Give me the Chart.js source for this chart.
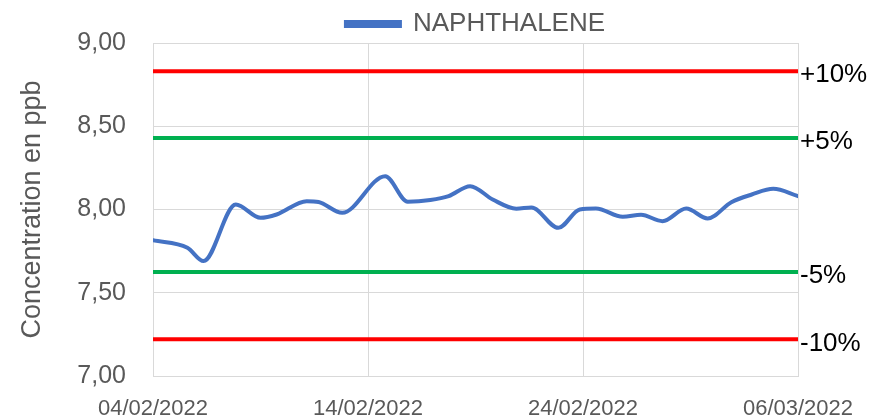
<!DOCTYPE html>
<html>
<head>
<meta charset="utf-8">
<title>NAPHTHALENE</title>
<script src="https://cdn.jsdelivr.net/npm/chart.js@4.4.1/dist/chart.umd.min.js"></script>
<style>
	html, body { margin: 0; padding: 0; background: #ffffff; }
	#wrap { width: 892px; height: 419px; }
</style>
</head>
<body>
<div id="wrap"><canvas id="naphChart" width="892" height="419"></canvas></div>
<script>
// days since 04/02/2022 and measured concentration (ppb)
const napDays = [0, 1.6, 2.35, 3.85, 5.0, 5.75, 7.15, 7.7, 8.8, 10.8, 11.85, 12.9, 13.75, 14.75, 15.8, 16.9, 17.6, 18.85, 19.85, 20.6, 21.85, 22.7, 23.7, 24.8, 25.8, 26.9, 27.85, 28.85, 30];
const napValues = [7.815, 7.77, 7.69, 8.03, 7.95, 7.97, 8.05, 8.045, 7.98, 8.2, 8.047, 8.057, 8.08, 8.14, 8.06, 8.005, 8.012, 7.89, 8.0, 8.006, 7.956, 7.968, 7.93, 8.006, 7.946, 8.044, 8.09, 8.124, 8.08];

// tolerance limits
const limitLabels = ["+10%", "+5%", "-5%", "-10%"];
const limitValues = [8.83, 8.43, 7.625, 7.22];
const limitColors = ["#FF0000", "#00B050", "#00B050", "#FF0000"];
const limitDays = [0, 30];

const xTickLabels = ["04/02/2022", "14/02/2022", "24/02/2022", "06/03/2022"];
const xTickDays = [0, 10, 20, 30];

const fontFamily = "'Liberation Sans', Arial, sans-serif";
const greyText = "#595959";
const gridColor = "#D9D9D9";

const datasets = [
	{
		label: "NAPHTHALENE",
		data: napDays.map((d, i) => ({ x: d, y: napValues[i] })),
		borderColor: "#4472C4",
		backgroundColor: "#4472C4",
		borderWidth: 4,
		borderCapStyle: "round",
		cubicInterpolationMode: "monotone",
		pointRadius: 0,
		fill: false,
	},
];

limitValues.forEach((v, i) => {
	datasets.push({
		label: limitLabels[i],
		data: limitDays.map(d => ({ x: d, y: v })),
		borderColor: limitColors[i],
		backgroundColor: limitColors[i],
		borderWidth: 4,
		pointRadius: 0,
		fill: false,
	});
});

// draws the +10% / +5% / -5% / -10% labels at the right end of each limit line
const limitLabelPlugin = {
	id: "limitLabels",
	afterDatasetsDraw(chart) {
		const { ctx, chartArea, scales } = chart;
		ctx.save();
		ctx.font = "26px " + fontFamily;
		ctx.fillStyle = "#000000";
		ctx.textAlign = "left";
		ctx.textBaseline = "middle";
		limitValues.forEach((v, i) => {
			const y = scales.y.getPixelForValue(v);
			ctx.fillText(limitLabels[i], chartArea.right + 2, y + 4);
		});
		ctx.restore();
	},
};

// the legend sits centred over the plot area, not over the whole canvas
const legendShiftPlugin = {
	id: "legendShift",
	afterLayout(chart) {
		const legend = chart.legend;
		if (!legend) return;
		const shift = (chart.chartArea.left + chart.chartArea.right) / 2 - (legend.left + legend.right) / 2;
		legend.left += shift;
		legend.right += shift;
		legend.top += 4;
		legend.bottom += 4;
	},
};

const ctx = document.getElementById("naphChart").getContext("2d");

new Chart(ctx, {
	type: "line",
	data: { datasets: datasets },
	plugins: [limitLabelPlugin, legendShiftPlugin],
	options: {
		responsive: false,
		animation: false,
		layout: { padding: { left: 0, right: 94, top: 0, bottom: 0 } },
		plugins: {
			legend: {
				display: true,
				position: "top",
				labels: {
					filter: item => item.text === "NAPHTHALENE",
					boxWidth: 54,
					boxHeight: 4,
					padding: 7,
					color: greyText,
					font: { family: fontFamily, size: 26 },
				},
			},
			tooltip: { enabled: false },
		},
		scales: {
			x: {
				type: "linear",
				min: 0,
				max: 30,
				afterBuildTicks: scale => {
					scale.ticks = xTickDays.map(v => ({ value: v }));
				},
				afterFit: scale => {
					scale.height = 43;
				},
				ticks: {
					autoSkip: false,
					maxRotation: 0,
					padding: 20,
					color: greyText,
					font: { family: fontFamily, size: 22 },
					callback: value => xTickLabels[xTickDays.indexOf(value)],
				},
				grid: { color: gridColor, lineWidth: 1, drawTicks: false },
				border: { display: true, color: gridColor },
			},
			y: {
				min: 7,
				max: 9,
				afterFit: scale => {
					scale.width = 153;
				},
				ticks: {
					stepSize: 0.5,
					padding: 27,
					color: greyText,
					font: { family: fontFamily, size: 25 },
					callback: value => value.toFixed(2).replace(".", ","),
				},
				title: {
					display: true,
					text: "Concentration en ppb",
					color: greyText,
					font: { family: fontFamily, size: 27 },
					padding: { top: 16, bottom: 0 },
				},
				grid: { color: gridColor, lineWidth: 1, drawTicks: false },
				border: { display: true, color: gridColor },
			},
		},
	},
});
</script>
</body>
</html>
